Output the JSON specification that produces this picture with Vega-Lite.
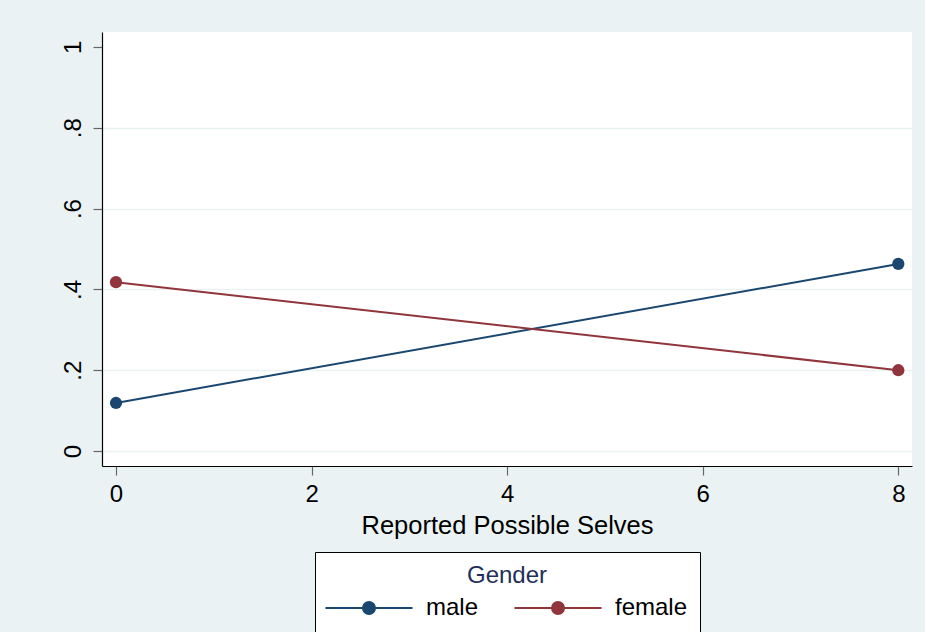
{
  "$schema": "https://vega.github.io/schema/vega-lite/v6.json",
  "width": 810,
  "height": 434,
  "autosize": {"type": "none"},
  "padding": {"left": 102, "top": 32, "right": 13, "bottom": 166},
  "background": "#EAF2F3",
  "config": {
    "font": "Liberation Sans",
    "view": {"fill": "white", "stroke": null},
    "axis": {"labelFont": "Liberation Sans", "titleFont": "Liberation Sans"}
  },
  "data": {
    "values": [
      {"selves": 0, "prob": 0.119, "gender": "male"},
      {"selves": 8, "prob": 0.463, "gender": "male"},
      {"selves": 0, "prob": 0.418, "gender": "female"},
      {"selves": 8, "prob": 0.200, "gender": "female"}
    ]
  },
  "mark": {"type": "line", "strokeWidth": 2, "point": {"filled": true, "size": 150, "opacity": 1}},
  "encoding": {
    "x": {
      "field": "selves", "type": "quantitative",
      "scale": {"domain": [-0.143, 8.14], "nice": false, "zero": false},
      "axis": {
        "values": [0, 2, 4, 6, 8], "grid": false, "title": "Reported Possible Selves",
        "domainColor": "black", "domainWidth": 1.2, "tickColor": "#666", "tickSize": 9, "tickWidth": 1.2,
        "labelFontSize": 24, "labelColor": "black", "labelPadding": 7,
        "titleFontSize": 25.5, "titleFontWeight": "normal", "titleColor": "black", "titlePadding": 7
      }
    },
    "y": {
      "field": "prob", "type": "quantitative",
      "scale": {"domain": [-0.037, 1.037], "nice": false, "zero": false},
      "axis": {
        "values": [0, 0.2, 0.4, 0.6, 0.8, 1], "title": null,
        "labelExpr": "datum.value < 0.01 ? '0' : datum.value > 0.99 ? '1' : '.' + format(datum.value * 10, '.0f')",
        "labelAngle": -90, "labelAlign": "center", "labelBaseline": "bottom",
        "grid": true, "gridColor": "#EAF2F3", "gridWidth": 1.5,
        "gridOpacity": {"condition": {"test": "datum.value > 0.99", "value": 0}, "value": 1},
        "domainColor": "black", "domainWidth": 1.2, "tickColor": "#666", "tickSize": 9, "tickWidth": 1.2,
        "labelFontSize": 24, "labelColor": "black", "labelPadding": 8
      }
    },
    "color": {
      "field": "gender", "type": "nominal",
      "scale": {"domain": ["male", "female"], "range": ["#1a476f", "#90353b"]},
      "legend": {
        "title": "Gender", "orient": "none", "legendX": 213, "legendY": 520,
        "direction": "horizontal", "columns": 2,
        "titleAnchor": "middle", "titleFontSize": 24, "titleFontWeight": "normal", "titleColor": "#1f2f5a", "titlePadding": 8,
        "labelFontSize": 24, "labelColor": "black", "labelOffset": 75,
        "symbolType": "M-6.152,0H6.152M0.849,0A0.849,0.849 0 1,1 -0.849,0A0.849,0.849 0 1,1 0.849,0Z",
        "symbolSize": 200, "symbolStrokeWidth": 2,
        "columnPadding": 31,
        "fillColor": "white", "strokeColor": "black", "padding": 12,
        "encode": {"symbols": {"update": {
          "fill": {"scale": "color", "field": "value"}, "fillOpacity": {"value": 1},
          "x": {"value": 42}
        }}}
      }
    }
  }
}
